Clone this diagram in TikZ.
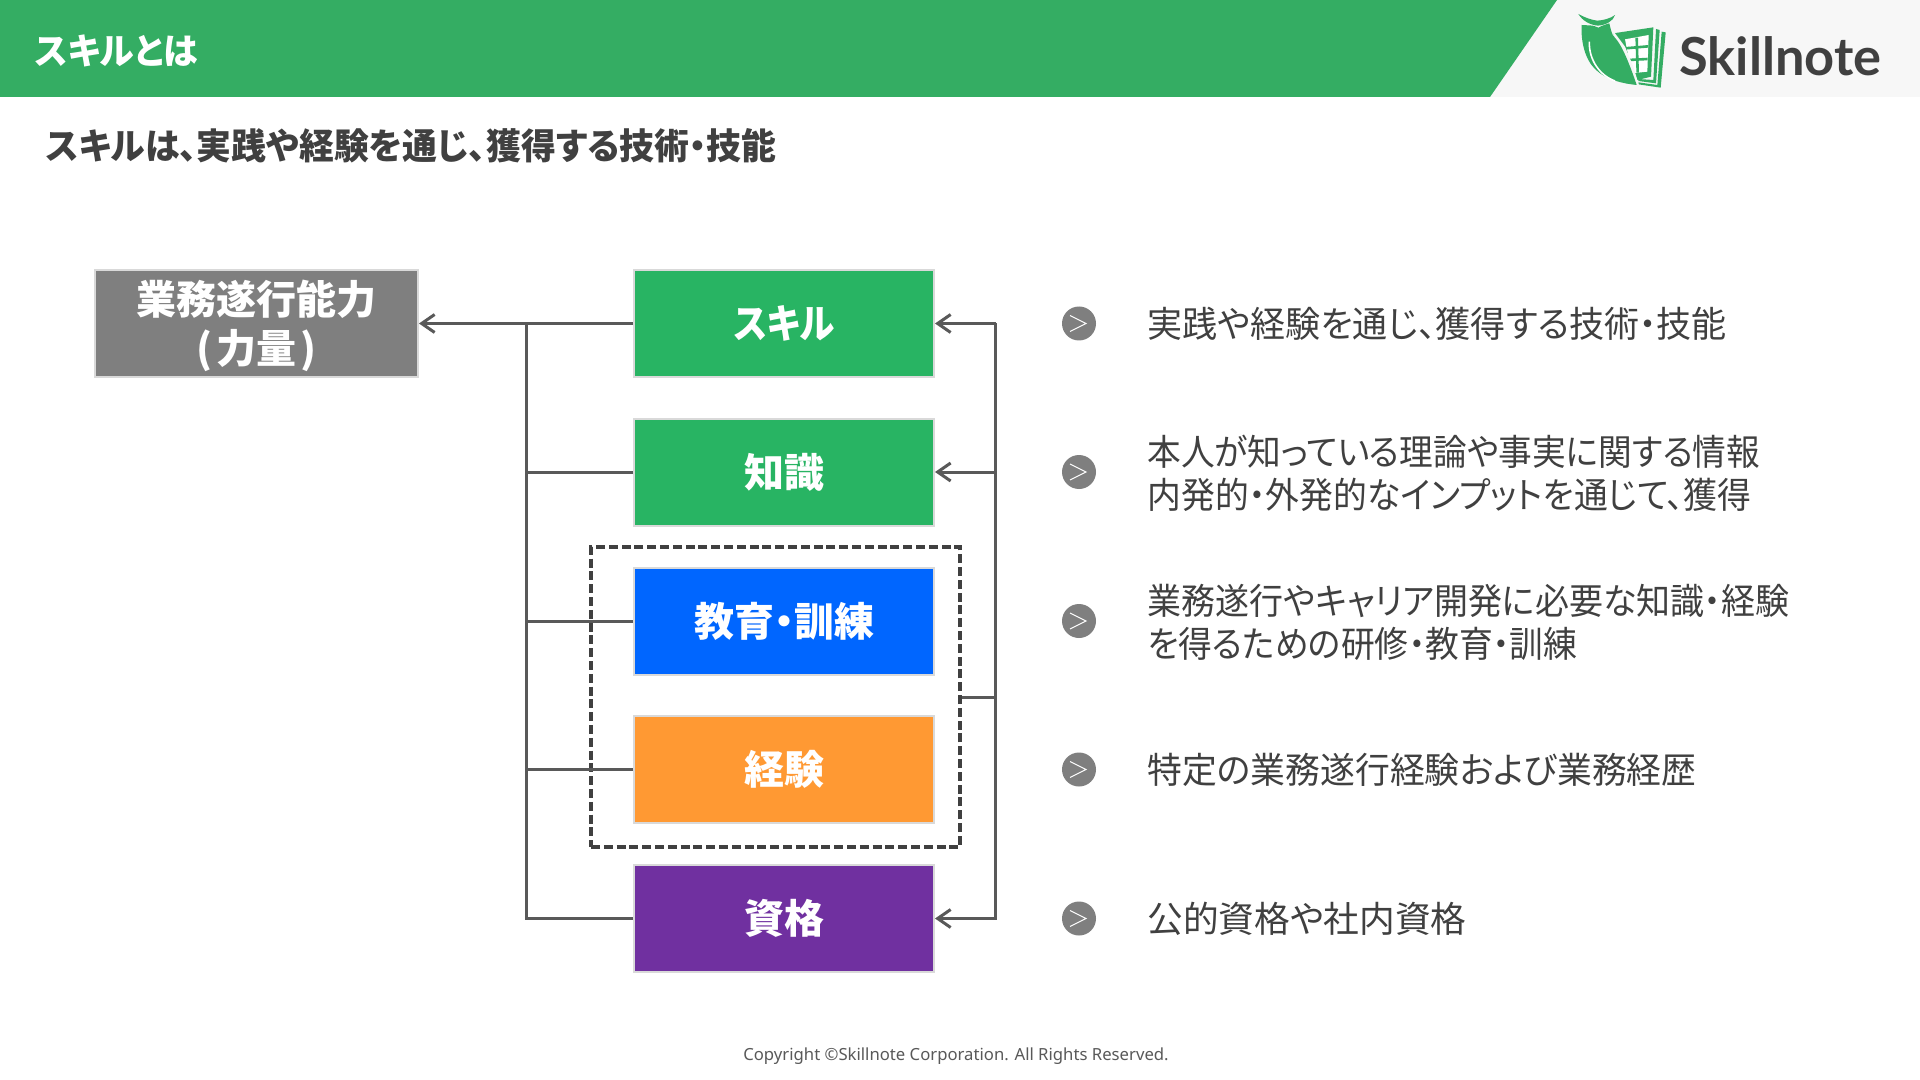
\documentclass[tikz,border=0pt]{standalone}
\usepackage{fontspec}
\usetikzlibrary{arrows.meta}
\setmainfont{Noto Sans}
\newfontfamily\jp[RawFeature={+palt}]{Noto Sans CJK JP}
\newfontfamily\logofont{Lato}
\newcommand{\squeezed}[2]{{\addfontfeature{FakeStretch=#1}#2}}
\definecolor{hdr}{HTML}{34AD63}
\definecolor{boxgreen}{HTML}{28B463}
\definecolor{boxblue}{HTML}{0066FF}
\definecolor{boxorange}{HTML}{FF9933}
\definecolor{boxpurple}{HTML}{7030A0}
\definecolor{boxgray}{HTML}{7F7F7F}
\definecolor{ln}{HTML}{595959}
\definecolor{ink}{HTML}{404040}
\tikzset{
  x=0.5pt,y=-0.5pt,
  catbox/.style={draw=black!15,line width=1pt,minimum width=150pt,minimum height=53.5pt,inner sep=0pt,
     text=white,font=\jp\bfseries\fontsize{20pt}{24pt}\selectfont,align=center},
  wire/.style={draw=ln,line width=1.5pt},
  arrowwire/.style={wire,-{Straight Barb[length=6.5pt,width=9pt,line width=1.5pt]}},
  bodytext/.style={anchor=west,inner sep=0pt,text=ink,font=\jp\fontsize{18pt}{21.5pt}\selectfont,align=left},
  bullet/.style={circle,fill=boxgray,minimum size=17pt,inner sep=0pt},
  chevron/.style={draw=white,line width=0.5pt},
  logogreen/.style={fill=hdr,draw=none}
}
\begin{document}
\begin{tikzpicture}
\useasboundingbox (0,0) rectangle (1920,1080);
\fill[white] (0,0) rectangle (1920,1080);
% header
\fill[black!3] (1490,0) rectangle (1920,97);
\fill[hdr] (0,0) -- (1557,0) -- (1490,97) -- (0,97) -- cycle;
\node[anchor=west,inner sep=0pt,text=white,font=\jp\bfseries\fontsize{18pt}{24pt}\selectfont] (title) at (35,51) {\squeezed{0.97}{スキルとは}};
\node[anchor=west,inner sep=0pt,text=ink,font=\jp\bfseries\fontsize{18pt}{24pt}\selectfont] (subtitle) at (46,146) {\squeezed{0.968}{スキルは、実践や経験を通じ、獲得する技術・技能}};
% logo
\begin{scope}[shift={(1570,5)},x=0.16667pt,y=-0.16667pt]
  \fill[logogreen] (275,80) -- (287,82) -- (272,248) -- (205,238) -- (205,232) -- (262,240) -- cycle;
  \fill[logogreen] (258,72) -- (269,75) -- (258,235) -- (205,228) -- (205,222) -- (250,225) -- cycle;
  \fill[logogreen] (130,85) -- (250,67) -- (243,215) -- (190,228) -- cycle;
  \fill[white] (165,103) -- (236,90) -- (232,200) -- (185,205) -- cycle;
  \draw[hdr,line width=1.3pt] (165,130) -- (235,124) (175,165) -- (233,162) (200,98) -- (203,203);
  \fill[white!97!black] (118,55) -- (135,85) -- (165,125) -- (190,185) -- (208,245) -- (190,245) -- cycle;
  \fill[logogreen] (35,60) .. controls (50,62) and (68,58) .. (85,68) .. controls (95,62) and (108,58) .. (118,55)
     .. controls (122,72) and (125,88) .. (132,95) .. controls (155,118) and (178,175) .. (200,240)
     .. controls (160,236) and (110,225) .. (78,195) .. controls (45,165) and (32,110) .. (35,60) -- cycle;
  \fill[logogreen] (25,27) .. controls (45,38) and (65,45) .. (82,47) .. controls (100,46) and (122,40) .. (135,30)
     .. controls (130,48) and (108,60) .. (84,62) .. controls (60,60) and (38,48) .. (25,27) -- cycle;
  \draw[white,line width=0.8pt] (58,110) .. controls (56,165) and (90,212) .. (135,228);
\end{scope}
\node[anchor=base west,inner sep=0pt,text=ink,font=\logofont\bfseries\fontsize{26.2pt}{30pt}\selectfont] (brand) at (1679,76) {Skillnote};
% boxes
\node[catbox,fill=boxgray,minimum width=161.5pt] (cap) at (256.5,323.5) {\rule{0pt}{20pt}業務遂行能力\\[0.5pt](\kern.1em 力量\kern.1em)};
\node[catbox,fill=boxgreen] (skill) at (784,323.5) {\squeezed{0.89}{スキル}};
\node[catbox,fill=boxgreen] (know) at (784,472) {知識};
\node[catbox,fill=boxblue] (edu) at (784,621) {教育・訓練};
\node[catbox,fill=boxorange] (exp) at (784,769.5) {経験};
\node[catbox,fill=boxpurple] (lic) at (784,918.5) {資格};
\node[draw=ink,line width=1.6pt,dash pattern=on 4.5pt off 1.9pt,minimum width=184.5pt,minimum height=150pt,inner sep=0pt] (grp) at (775.5,697) {};
% connectors
\coordinate (ltrunk) at (526,323.5);
\coordinate (rtrunk) at (995.5,323.5);
\draw[arrowwire] (skill.west) -- (cap.east);
\draw[wire] (lic.west) -| (ltrunk);
\draw[wire] (know.west) -- (know.west -| ltrunk);
\draw[wire] (edu.west) -- (edu.west -| ltrunk);
\draw[wire] (exp.west) -- (exp.west -| ltrunk);
\draw[arrowwire] (rtrunk) -- (skill.east);
\draw[arrowwire] (know.east -| rtrunk) -- (know.east);
\draw[arrowwire] (rtrunk) |- (lic.east);
\draw[wire] (grp.east) -- (grp.east -| rtrunk);
% bullets and descriptions
\foreach \n/\yy in {b1/323.5,b2/472,b3/621,b4/769.5,b5/918.5}{
  \node[bullet] (\n) at (1079,\yy) {};
  \draw[chevron] ([shift={(-9,-8)}]\n.center) -- ([shift={(7,0)}]\n.center) -- ([shift={(-9,8)}]\n.center);
}
\node[bodytext] (t1) at (1147,323.5) {\squeezed{0.973}{実践や経験を通じ、獲得する技術・技能}};
\node[bodytext] (t2) at (1147,473) {\squeezed{0.936}{本人が知っている理論や事実に関する情報}\\\squeezed{0.939}{内発的・外発的なインプットを通じて、獲得}};
\node[bodytext] (t3) at (1147,622) {\squeezed{0.944}{業務遂行やキャリア開発に必要な知識・経験}\\\squeezed{0.938}{を得るための研修・教育・訓練}};
\node[bodytext] (t4) at (1147,769.5) {\squeezed{0.968}{特定の業務遂行経験および業務経歴}};
\node[bodytext] (t5) at (1147,918.5) {\squeezed{0.992}{公的資格や社内資格}};
% footer
\node[inner sep=0pt,text=ln,font=\fontsize{8.35pt}{11pt}\selectfont] (copy) at (956,1056.5) {Copyright ©Skillnote Corporation. All Rights Reserved.};
\end{tikzpicture}
\end{document}
